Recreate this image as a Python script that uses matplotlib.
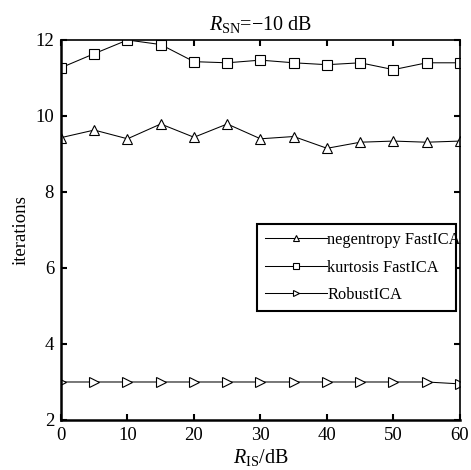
import matplotlib
matplotlib.use("Agg")
import matplotlib.pyplot as plt

plt.rcParams["font.family"] = ["Liberation Serif", "DejaVu Serif"]
plt.rcParams["mathtext.fontset"] = "custom"
plt.rcParams["mathtext.rm"] = "Liberation Serif"
plt.rcParams["mathtext.it"] = "Liberation Serif:italic"

r_is = [0, 5, 10, 15, 20, 25, 30, 35, 40, 45, 50, 55, 60]
negentropy = [9.43, 9.63, 9.40, 9.79, 9.44, 9.79, 9.40, 9.46, 9.15, 9.31, 9.34, 9.31, 9.34]
kurtosis = [11.27, 11.64, 12.0, 11.88, 11.43, 11.40, 11.47, 11.40, 11.35, 11.40, 11.22, 11.40, 11.40]
robust = [3.0, 3.0, 3.0, 3.0, 3.0, 3.0, 3.0, 3.0, 3.0, 3.0, 3.0, 3.0, 2.95]

fig = plt.figure(figsize=(4.71, 4.70), dpi=100)
ax = fig.add_axes([0.1295, 0.1064, 0.8471, 0.8085])

style = dict(color="black", linewidth=0.75, markerfacecolor="white",
             markeredgecolor="black", markeredgewidth=0.8, markersize=7)
ax.plot(r_is, negentropy, marker="^", label="negentropy FastICA", **style)
ax.plot(r_is, kurtosis, marker="s", label="kurtosis FastICA", **style)
ax.plot(r_is, robust, marker=">", label="RobustICA", **style)

ax.set_xlim(0, 60)
ax.set_ylim(2, 12)
ax.set_xticks([0, 10, 20, 30, 40, 50, 60])
ax.set_yticks([2, 4, 6, 8, 10, 12])
ax.tick_params(direction="in", top=True, right=True, labelsize=13.5,
               length=4, width=1.5, pad=5)
for side in ["left", "bottom"]:
    ax.spines[side].set_linewidth(1.8)
for side in ["top", "right"]:
    ax.spines[side].set_linewidth(1.2)

ax.set_title(r"$R_{\mathrm{SN}}$=$-$10 dB", fontsize=14.5, pad=7)
ax.set_xlabel(r"$R_{\mathrm{IS}}$/dB", fontsize=14.5, labelpad=2)
ax.set_ylabel("iterations", fontsize=13.5, labelpad=4)

leg = ax.legend(loc="upper left", bbox_to_anchor=(0.491, 0.268, 0.499, 0.248),
                mode="expand", fontsize=11.8, frameon=True, fancybox=False,
                edgecolor="black", framealpha=1, markerscale=0.7,
                handlelength=3.8, handletextpad=0.0, borderpad=0.5,
                labelspacing=0.7, borderaxespad=0)
leg.get_frame().set_linewidth(1.5)

fig.savefig("out.png", dpi=100)
